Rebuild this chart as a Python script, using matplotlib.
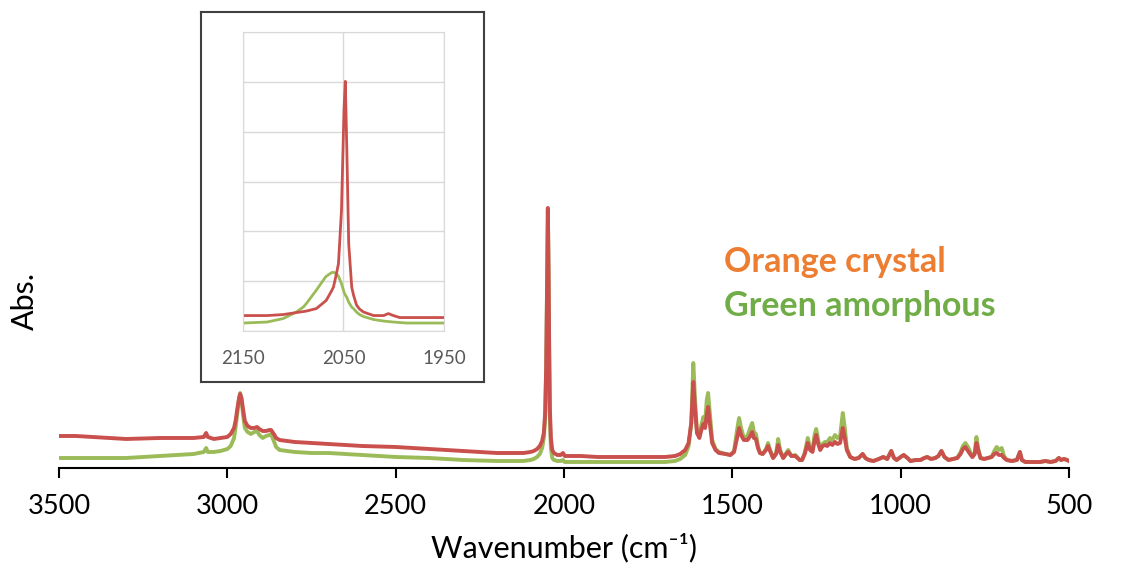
import numpy as np
import matplotlib
matplotlib.use("Agg")
import matplotlib.pyplot as plt

plt.rcParams['font.family'] = ['Lato', 'DejaVu Sans']

# --- main spectrum (wavenumber, cm-1) and absorbance in arbitrary units ---
wavenumber = [
    3500, 3450, 3400, 3300, 3200, 3100, 3070, 3063, 3058, 3040,
    3020, 3000, 2990, 2980, 2975, 2970, 2965, 2962, 2958, 2953,
    2948, 2940, 2930, 2920, 2912, 2905, 2895, 2885, 2875, 2870,
    2862, 2855, 2845, 2800, 2750, 2700, 2650, 2600, 2500, 2400,
    2300, 2200, 2150, 2120, 2100, 2090, 2080, 2072, 2065, 2060,
    2056, 2053, 2050, 2048, 2046, 2044, 2042, 2039, 2035, 2030,
    2020, 2010, 2003, 1998, 1950, 1900, 1850, 1800, 1750, 1700,
    1670, 1655, 1640, 1630, 1622, 1616, 1611, 1605, 1598, 1592,
    1586, 1581, 1576, 1572, 1567, 1560, 1550, 1540, 1520, 1506,
    1495, 1486, 1480, 1474, 1466, 1455, 1447, 1441, 1436, 1430,
    1424, 1418, 1410, 1400, 1394, 1388, 1379, 1370, 1364, 1358,
    1349, 1340, 1334, 1325, 1313, 1300, 1293, 1285, 1276, 1269,
    1262, 1256, 1251, 1245, 1239, 1232, 1225, 1218, 1210, 1203,
    1195, 1188, 1180, 1172, 1166, 1160, 1150, 1137, 1125, 1113,
    1105, 1095, 1081, 1065, 1052, 1040, 1028, 1020, 1012, 1000,
    991, 980, 971, 955, 941, 930, 921, 910, 897, 888,
    879, 870, 858, 845, 832, 822, 815, 808, 800, 792,
    787, 780, 775, 770, 763, 752, 741, 730, 722, 715,
    708, 700, 693, 685, 670, 655, 646, 640, 630, 610,
    586, 570, 555, 540, 530, 524, 515, 506, 500,
]
crystal = [
    32, 32, 31, 29, 30, 30, 31, 35, 31, 29,
    30, 31, 34, 40, 48, 60, 70, 74, 70, 58,
    47, 42, 40, 40, 41, 39, 37, 37, 38, 38,
    34, 30, 28, 26, 25, 24, 23, 22, 21, 19,
    17, 15, 15, 15, 16, 17, 19, 22, 27, 35,
    55, 100, 190, 260, 200, 120, 60, 30, 18, 15,
    13, 13, 15, 12, 12, 11, 11, 11, 11, 11,
    12, 14, 18, 25, 45, 86, 60, 35, 30, 38,
    44, 40, 53, 61, 45, 25, 18, 15, 14, 13,
    16, 30, 40, 33, 28, 28, 32, 36, 30, 29,
    20, 15, 14, 18, 22, 17, 10, 14, 23, 16,
    10, 14, 16, 12, 12, 8, 8, 14, 25, 18,
    16, 27, 33, 24, 18, 22, 23, 22, 25, 23,
    26, 24, 25, 40, 30, 18, 11, 9, 10, 14,
    10, 8, 7, 9, 11, 9, 17, 10, 8, 11,
    13, 10, 7, 8, 8, 10, 11, 9, 10, 12,
    17, 11, 8, 9, 10, 14, 19, 21, 17, 13,
    11, 14, 25, 18, 10, 9, 10, 11, 14, 15,
    13, 13, 10, 8, 7, 8, 16, 8, 6, 6,
    6, 7, 6, 7, 10, 8, 9, 8, 7,
]
amorphous = [
    10, 10, 10, 10, 12, 14, 16, 20, 16, 16,
    17, 19, 22, 30, 42, 56, 70, 75, 68, 52,
    40, 36, 34, 36, 37, 33, 30, 32, 33, 34,
    27, 21, 18, 16, 15, 15, 14, 13, 11, 10,
    8, 7, 7, 7, 8, 9, 11, 14, 20, 30,
    50, 100, 190, 258, 200, 110, 50, 20, 10, 8,
    7, 7, 8, 6, 6, 6, 6, 6, 6, 6,
    7, 9, 13, 22, 45, 105, 70, 35, 32, 43,
    51, 45, 68, 75, 55, 28, 19, 16, 14, 13,
    17, 38, 50, 40, 30, 32, 40, 45, 36, 34,
    22, 15, 14, 19, 25, 18, 10, 15, 29, 18,
    10, 15, 18, 12, 13, 8, 8, 15, 30, 20,
    17, 33, 39, 28, 19, 24, 26, 26, 30, 28,
    33, 30, 32, 55, 40, 20, 11, 9, 10, 14,
    10, 8, 7, 9, 11, 9, 17, 10, 8, 11,
    13, 10, 7, 8, 8, 10, 11, 9, 10, 12,
    17, 11, 8, 9, 10, 16, 22, 25, 21, 15,
    11, 16, 31, 20, 10, 9, 10, 11, 17, 21,
    18, 20, 12, 8, 7, 8, 16, 8, 6, 6,
    6, 7, 6, 7, 10, 8, 9, 8, 7,
]

# --- inset: zoom on the 2050 cm-1 band ---
inset_wn = [2150, 2126, 2110, 2097, 2090, 2087, 2077, 2068, 2067, 2062, 2060,
            2057, 2055, 2052, 2049.5, 2048.2, 2046.8, 2044.8, 2041.8, 2040,
            2037, 2034, 2030, 2020, 2010, 2005.4, 2000.4, 1994, 1987, 1950]
inset_crystal = [0.31, 0.31, 0.33, 0.37, 0.39, 0.40, 0.45, 0.60, 0.62, 0.80, 0.88,
                 1.15, 1.35, 2.42, 4.43, 5.01, 3.76, 1.75, 0.88, 0.72,
                 0.52, 0.44, 0.38, 0.31, 0.31, 0.35, 0.31, 0.27, 0.27, 0.27]
inset_amorphous = [0.16, 0.18, 0.25, 0.38, 0.48, 0.55, 0.82, 1.08, 1.10, 1.17, 1.18,
                   1.15, 1.10, 0.95, 0.78, 0.72, 0.68, 0.58, 0.48, 0.45,
                   0.38, 0.33, 0.29, 0.23, 0.20, 0.19, 0.18, 0.17, 0.16, 0.16]
inset_ticks = [2150, 2050, 1950]

red = '#C9504C'
green = '#9BBB59'

fig = plt.figure(figsize=(11.26, 5.71), dpi=100)

ax = fig.add_axes([0.0524, 0.1804, 0.8970, 0.4694])
ax.plot(wavenumber, amorphous, color=green, lw=2.8, solid_joinstyle='round')
ax.plot(wavenumber, crystal, color=red, lw=2.8, solid_joinstyle='round')
ax.set_xlim(3500, 500)
ax.set_ylim(0, 268)
ax.set_xticks([3500, 3000, 2500, 2000, 1500, 1000, 500])
ax.set_yticks([])
for s in ['left', 'right', 'top']:
    ax.spines[s].set_visible(False)
ax.spines['bottom'].set_linewidth(1.5)
ax.tick_params(axis='x', direction='out', length=7, width=1.5, labelsize=19.5, pad=12)
ax.set_xlabel('Wavenumber (cm⁻¹)', fontsize=22, labelpad=10)
fig.text(0.022, 0.473, 'Abs.', rotation=90, fontsize=22, ha='center', va='center')

fig.text(0.643, 0.541, 'Orange crystal', color='#ED7D31', fontsize=24.5,
         fontweight='bold', ha='left', va='center')
fig.text(0.643, 0.464, 'Green amorphous', color='#70AD47', fontsize=24.5,
         fontweight='bold', ha='left', va='center')

# inset frame
frame = fig.add_axes([0.1785, 0.331, 0.2513, 0.648])
frame.set_xticks([])
frame.set_yticks([])
for s in frame.spines.values():
    s.set_color('#404040')
    s.set_linewidth(1.5)

ins = fig.add_axes([0.2158, 0.4203, 0.1785, 0.5236])
ins.plot(inset_wn, inset_amorphous, color=green, lw=2)
ins.plot(inset_wn, inset_crystal, color=red, lw=2)
ins.set_xlim(2150, 1950)
ins.set_ylim(0, 6)
ins.set_xticks(inset_ticks)
ins.set_yticks(range(7))
ins.set_yticklabels([])
ins.grid(True, color='#D9D9D9', lw=1)
ins.set_axisbelow(True)
ins.tick_params(length=0, labelsize=13.5, labelcolor='#595959', pad=14)
for s in ins.spines.values():
    s.set_color('#D9D9D9')

fig.savefig('out.png', dpi=100)
